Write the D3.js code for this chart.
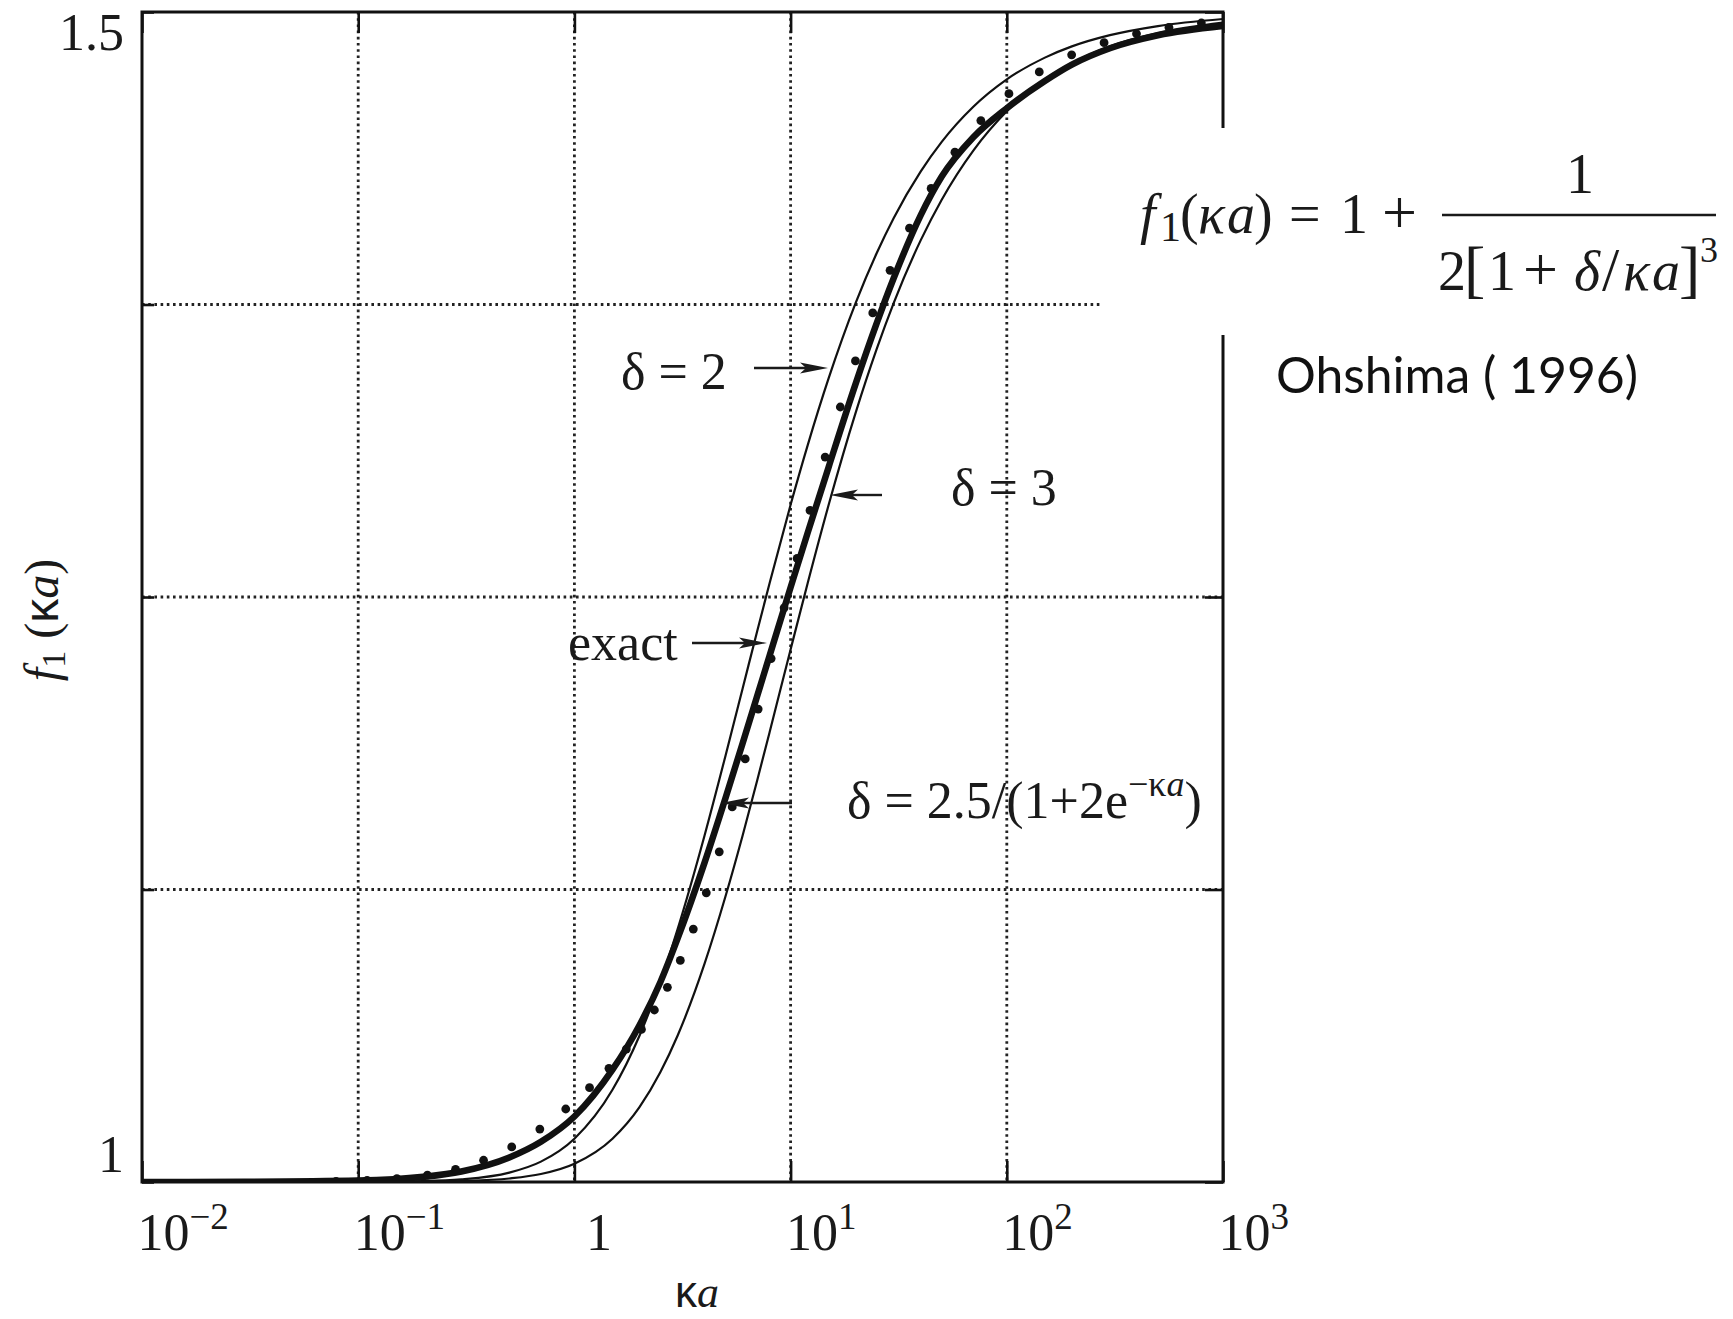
<!DOCTYPE html>
<html><head><meta charset="utf-8">
<script src="https://cdn.jsdelivr.net/npm/d3@7/dist/d3.min.js"></script>
<style>body{margin:0;background:#fff} svg{display:block}</style>
</head><body>
<svg id="chart" width="1733" height="1319"></svg>
<script>
// ---------------- data ----------------
const kaGrid  = [0.01, 0.03, 0.1, 0.2, 0.3, 0.5, 0.7, 1, 1.5, 2, 2.5, 3, 4, 5, 6, 7, 8, 10, 12, 15, 20, 25, 30, 40, 50, 70, 100, 150, 200, 300, 500, 1000];
const fDelta2 = [1.0000, 1.0000, 1.0001, 1.0004, 1.0011, 1.0040, 1.0087, 1.0185, 1.0394, 1.0625, 1.0857, 1.1080, 1.1481, 1.1822, 1.2109, 1.2353, 1.2560, 1.2894, 1.3149, 1.3435, 1.3757, 1.3969, 1.4120, 1.4319, 1.4445, 1.4595, 1.4712, 1.4805, 1.4853, 1.4901, 1.4940, 1.4970];
const fDelta3 = [1.0000, 1.0000, 1.0000, 1.0001, 1.0004, 1.0015, 1.0034, 1.0078, 1.0185, 1.0320, 1.0470, 1.0625, 1.0933, 1.1221, 1.1481, 1.1715, 1.1923, 1.2276, 1.2560, 1.2894, 1.3288, 1.3559, 1.3757, 1.4025, 1.4198, 1.4408, 1.4576, 1.4712, 1.4781, 1.4853, 1.4911, 1.4955];
const fExact  = [1.0000, 1.0001, 1.0006, 1.0022, 1.0045, 1.0105, 1.0172, 1.0280, 1.0480, 1.0670, 1.0855, 1.1040, 1.1365, 1.1641, 1.1875, 1.2076, 1.2250, 1.2541, 1.2775, 1.3056, 1.3412, 1.3669, 1.3863, 1.4132, 1.4297, 1.4465, 1.4589, 1.4705, 1.4775, 1.4845, 1.4900, 1.4940];
// dotted series: delta = 2.5/(1+2e^-ka)
const dotKa = [0.079, 0.110, 0.151, 0.209, 0.282, 0.380, 0.513, 0.692, 0.912, 1.175, 1.445, 1.738, 2.042, 2.344, 2.692, 3.090, 3.548, 4.074, 4.677, 5.370, 6.166, 7.079, 8.128, 9.333, 10.72, 12.30, 14.45, 16.98, 19.95, 23.99, 28.84, 35.48, 44.67, 57.54, 75.86, 102.3, 141.3, 199.5, 281.8, 398.1, 562.3, 794.3];
const dotF  = [1.0003, 1.0007, 1.0014, 1.0029, 1.0054, 1.0093, 1.0150, 1.0226, 1.0312, 1.0403, 1.0486, 1.0568, 1.0652, 1.0735, 1.0832, 1.0947, 1.1081, 1.1236, 1.1411, 1.1603, 1.1808, 1.2021, 1.2237, 1.2454, 1.2665, 1.2870, 1.3098, 1.3312, 1.3509, 1.3714, 1.3896, 1.4076, 1.4246, 1.4401, 1.4536, 1.4651, 1.4744, 1.4817, 1.4869, 1.4907, 1.4934, 1.4953];

const xTickValues = [0.01, 0.1, 1, 10, 100, 1000];
const xTickBase   = ["10", "10", "1", "10", "10", "10"];
const xTickExp    = ["\u22122", "\u22121", "", "1", "2", "3"];
const xGridValues = [0.1, 1, 10, 100];
const yGridValues = [1.125, 1.25, 1.375];
const yTickValues = [1, 1.125, 1.25, 1.375, 1.5];
const yLabelValues = [1, 1.5];
const yLabelTexts  = ["1", "1.5"];

// ---------------- setup ----------------
const W = 1733, H = 1319;
const SERIF = "'Liberation Serif','Times New Roman',serif";
const SANS = "'Liberation Sans',Arial,sans-serif";
const INK = "#1a1a1a";
const svg = d3.select("#chart");
svg.append("rect").attr("width", W).attr("height", H).attr("fill", "#fff");

const x = d3.scaleLog().domain([0.01, 1000]).range([142, 1223]);
const y = d3.scaleLinear().domain([1, 1.5]).range([1182, 12]);
const X0 = x(0.01), X1 = x(1000), Y0 = y(1), Y1 = y(1.5);

svg.append("clipPath").attr("id", "plotclip").append("rect")
  .attr("x", X0).attr("y", Y1).attr("width", X1 - X0).attr("height", Y0 - Y1);

// ---------------- grid ----------------
const grid = svg.append("g").attr("stroke", "#222").attr("stroke-width", 2.8)
  .attr("stroke-dasharray", "2.6 3.6").attr("fill", "none");
grid.selectAll("line.vg").data(xGridValues).join("line").attr("class", "vg")
  .attr("x1", d => x(d)).attr("x2", d => x(d)).attr("y1", Y1).attr("y2", Y0);
grid.selectAll("line.hg").data(yGridValues).join("line").attr("class", "hg")
  .attr("x1", X0).attr("x2", X1).attr("y1", d => y(d)).attr("y2", d => y(d));

// ---------------- curves ----------------
const line = d3.line().x(d => x(d[0])).y(d => y(d[1])).curve(d3.curveMonotoneX);
const pts = ys => kaGrid.map((k, i) => [k, ys[i]]);
const curves = svg.append("g").attr("clip-path", "url(#plotclip)").attr("fill", "none").attr("stroke", "#111");
curves.append("path").attr("d", line(pts(fDelta2))).attr("stroke-width", 2.2);
curves.append("path").attr("d", line(pts(fDelta3))).attr("stroke-width", 2.2);
curves.append("path").attr("d", line(pts(fExact))).attr("stroke-width", 6.5);
svg.append("g").attr("clip-path", "url(#plotclip)").attr("fill", "#111")
  .selectAll("circle").data(dotKa.map((k, i) => [k, dotF[i]])).join("circle")
  .attr("cx", d => x(d[0])).attr("cy", d => y(d[1])).attr("r", 4.4);

// ---------------- annotations ----------------
const ann = svg.append("g").attr("font-family", SERIF).attr("font-size", 52).attr("fill", INK);
function arrow(x1, x2, yy, dir) {
  ann.append("line").attr("x1", x1).attr("x2", x2 - dir * 20).attr("y1", yy).attr("y2", yy)
    .attr("stroke", INK).attr("stroke-width", 2.4);
  const L = 28, hw = 5.5;
  ann.append("path").attr("fill", INK)
    .attr("d", `M${x2},${yy} L${x2 - dir * L},${yy - hw} L${x2 - dir * (L - 6)},${yy} L${x2 - dir * L},${yy + hw} Z`);
}
ann.append("text").attr("x", 621).attr("y", 389).text("\u03B4 = 2");
arrow(754, 828, 368, 1);
ann.append("text").attr("x", 951).attr("y", 505).text("\u03B4 = 3");
arrow(882, 830, 495, -1);
ann.append("text").attr("x", 568).attr("y", 660).text("exact");
arrow(692, 767, 643, 1);
const t4 = ann.append("text").attr("x", 847).attr("y", 818);
t4.append("tspan").text("\u03B4 = 2.5/(1+2e");
t4.append("tspan").attr("dy", -22).attr("font-size", 36).text("\u2212\u03BA");
t4.append("tspan").attr("font-size", 36).attr("font-style", "italic").text("a");
t4.append("tspan").attr("dy", 22).text(")");
arrow(792, 721, 803, -1);

// ---------------- frame and ticks ----------------
svg.append("rect").attr("x", X0).attr("y", Y1).attr("width", X1 - X0).attr("height", Y0 - Y1)
  .attr("fill", "none").attr("stroke", "#111").attr("stroke-width", 3);

function styleAxis(g) {
  g.select(".domain").remove();
  g.selectAll(".tick text").remove();
  g.selectAll(".tick line").attr("stroke", "#111").attr("stroke-width", 2.6);
}
const gB = svg.append("g").attr("transform", `translate(0,${Y0})`)
  .call(d3.axisBottom(x).tickValues(xTickValues).tickSizeInner(-21).tickSizeOuter(0)).call(styleAxis);
svg.append("g").attr("transform", `translate(0,${Y1})`)
  .call(d3.axisTop(x).tickValues(xTickValues).tickSizeInner(-21).tickSizeOuter(0)).call(styleAxis);
svg.append("g").attr("transform", `translate(${X0},0)`)
  .call(d3.axisLeft(y).tickValues(yTickValues).tickSizeInner(-12).tickSizeOuter(0)).call(styleAxis);
svg.append("g").attr("transform", `translate(${X1},0)`)
  .call(d3.axisRight(y).tickValues(yTickValues).tickSizeInner(-18).tickSizeOuter(0)).call(styleAxis);

// x tick labels
gB.selectAll(".tick").each(function (d, i) {
  const t = d3.select(this).append("text")
    .attr("x", xTickBase[i] === "1" && !xTickExp[i] ? 11 : -5).attr("y", 68)
    .attr("text-anchor", "start").attr("fill", INK)
    .attr("font-family", SERIF).attr("font-size", 52);
  t.append("tspan").text(xTickBase[i]);
  if (xTickExp[i]) t.append("tspan").attr("dy", -21).attr("font-size", 37).text(xTickExp[i]);
});

// y tick labels
svg.append("g").attr("font-family", SERIF).attr("font-size", 52).attr("fill", INK)
  .attr("text-anchor", "end")
  .selectAll("text").data(yLabelValues).join("text")
  .attr("x", 124).attr("y", d => y(d) + (d === 1.5 ? 38 : -10))
  .text((d, i) => yLabelTexts[i]);

// axis titles
const xt = svg.append("text").attr("x", 697).attr("y", 1307).attr("text-anchor", "middle")
  .attr("font-size", 44).attr("fill", INK);
xt.append("tspan").attr("font-family", SANS).text("\u03BA");
xt.append("tspan").attr("font-family", SERIF).attr("font-style", "italic").text("a");

const yt = svg.append("text").attr("transform", "translate(58,620) rotate(-90)")
  .attr("text-anchor", "middle").attr("font-family", SERIF).attr("font-size", 48).attr("fill", INK);
yt.append("tspan").attr("font-style", "italic").text("f");
yt.append("tspan").attr("font-size", 34).attr("dy", 7).text("1");
yt.append("tspan").attr("dy", -7).text(" (");
yt.append("tspan").attr("font-family", SANS).text("\u03BA");
yt.append("tspan").attr("font-style", "italic").text("a");
yt.append("tspan").text(")");

// ---------------- formula box ----------------
svg.append("rect").attr("x", 1100).attr("y", 128).attr("width", W - 1100).attr("height", 207).attr("fill", "#fff");
const fm = svg.append("g").attr("font-family", SERIF).attr("font-size", 56).attr("fill", INK);
function mathLine(xx, yy, parts) {
  const t = fm.append("text").attr("x", xx).attr("y", yy);
  parts.forEach(p => {
    const s = t.append("tspan").attr("x", p.x).attr("y", p.y !== undefined ? p.y : yy).text(p.t);
    if (p.i) s.attr("font-style", "italic");
    if (p.s) s.attr("font-size", p.s);
  });
}
mathLine(1140, 233, [
  {t: "f", x: 1140, i: 1}, {t: "1", x: 1160, y: 241, s: 42}, {t: "(", x: 1180}, {t: "\u03BA", x: 1198, i: 1},
  {t: "a", x: 1227, i: 1}, {t: ")", x: 1254}, {t: "=", x: 1289}, {t: "1", x: 1340}, {t: "+", x: 1382, s: 62}
]);
mathLine(1566, 193, [{t: "1", x: 1566}]);
mathLine(1438, 290, [
  {t: "2", x: 1438}, {t: "[", x: 1464, s: 64}, {t: "1", x: 1488}, {t: "+", x: 1523, s: 62}, {t: "\u03B4", x: 1574, i: 1},
  {t: "/", x: 1602, s: 62}, {t: "\u03BA", x: 1623, i: 1}, {t: "a", x: 1652, i: 1}, {t: "]", x: 1679, s: 64},
  {t: "3", x: 1700, y: 262, s: 36}
]);
fm.append("line").attr("x1", 1442).attr("x2", 1716).attr("y1", 215).attr("y2", 215)
  .attr("stroke", INK).attr("stroke-width", 2.6);

svg.append("text").attr("x", 1276).attr("y", 393).attr("font-family", "Lato, 'Noto Sans', sans-serif")
  .attr("font-size", 50).attr("fill", "#111").attr("textLength", 362).attr("lengthAdjust", "spacingAndGlyphs")
  .text("Ohshima ( 1996)");
</script>
</body></html>
